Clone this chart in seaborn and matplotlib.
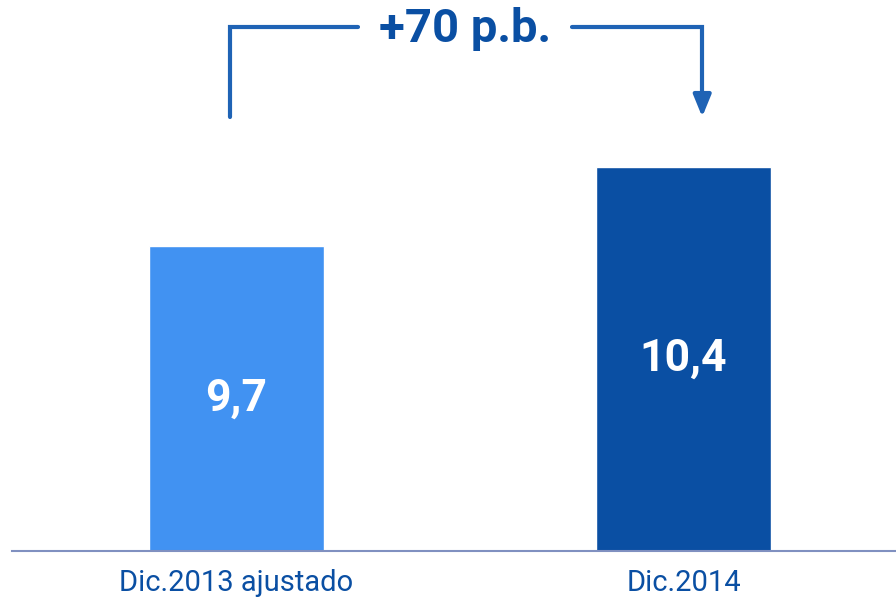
import pandas as pd
import matplotlib.pyplot as plt
import seaborn as sns

# Data
categories = ["Dic.2013 ajustado", "Dic.2014"]
values = [9.7, 10.4]
value_labels = ["9,7", "10,4"]
bar_colors = ["#4192F2", "#0A4FA3"]
change_label = "+70 p.b."

df = pd.DataFrame({"Periodo": categories, "Valor": values})

sns.set_theme(style="white")
plt.rcParams['font.family'] = ['Roboto', 'DejaVu Sans']

fig = plt.figure(figsize=(8.96, 6.02), dpi=100)
ax = fig.add_axes([12 / 896, (602 - 551) / 602, 884 / 896, 551 / 602])

sns.barplot(data=df, x="Periodo", y="Valor", hue="Periodo", palette=bar_colors,
            width=0.39, saturation=1, legend=False, ax=ax)

ax.set_ylim(7.0, 11.88)
ax.set_xlim(-0.502, 1.475)

# value labels inside bars (middle of visible bar)
for i, (v, lab) in enumerate(zip(values, value_labels)):
    ax.text(i, 7 + (v - 7) * 0.5, lab, ha="center", va="center", color="white",
            fontsize=32, fontweight="bold")

# axis styling
for side in ["top", "right", "left"]:
    ax.spines[side].set_visible(False)
ax.spines["bottom"].set_color("#8090C0")
ax.spines["bottom"].set_linewidth(1.5)
ax.set_yticks([])
ax.set_xlabel("")
ax.set_ylabel("")
ax.tick_params(axis="x", length=0, pad=13, labelsize=21, labelcolor="#0A4FA3")

# bracket with arrow
line_col = "#1F63B5"
x_left, x_right = -0.0145, 1.0416
gap_left, gap_right = 0.272, 0.751
y_low, y_top = 10.845, 11.643
ax.plot([x_left, x_left, gap_left], [y_low, y_top, y_top], color=line_col, lw=3,
        clip_on=False, solid_joinstyle="miter")
ax.plot([gap_right, x_right, x_right], [y_top, y_top, 10.97], color=line_col, lw=3,
        clip_on=False, solid_joinstyle="miter")
ax.annotate("", xy=(x_right, y_low), xytext=(x_right, 11.0),
            arrowprops=dict(arrowstyle="-|>,head_width=0.45,head_length=1.1",
                            color=line_col, lw=3, shrinkA=0, shrinkB=0),
            annotation_clip=False)
ax.text((gap_left + gap_right) / 2, 11.51, change_label, ha="center", va="baseline",
        color="#0A4FA3", fontsize=34, fontweight="bold")

fig.savefig("out.png", dpi=100)
